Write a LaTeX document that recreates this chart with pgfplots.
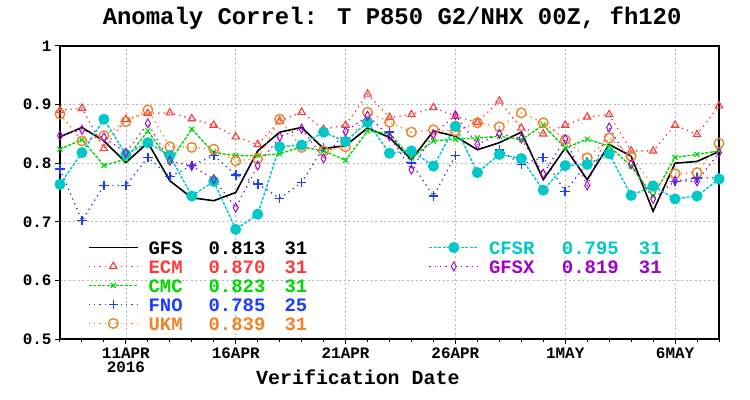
\documentclass[border=0pt]{standalone}
\usepackage{fontspec}
\setmainfont{Liberation Mono}
\usepackage{pgfplots}
\usepackage{pgfplotstable}
\pgfplotsset{compat=1.18}
\definecolor{gred}{RGB}{250,60,60}
\definecolor{ggreen}{RGB}{0,215,0}
\definecolor{gblue}{RGB}{30,60,255}
\definecolor{gcyan}{RGB}{0,200,200}
\definecolor{gorange}{RGB}{240,130,40}
\definecolor{gpurple}{RGB}{160,0,200}
\pgfplotstableread{
x gfs ecm cmc fno ukm cfsr gfsx
0 0.845 0.890 0.824 0.790 0.884 0.764 0.847
1 0.861 0.894 0.840 0.702 0.838 0.818 0.857
2 0.838 0.825 0.796 0.762 0.847 0.875 0.844
3 0.801 0.875 0.807 0.762 0.871 0.815 0.818
4 0.835 0.885 0.855 0.810 0.891 0.835 0.868
5 0.770 0.886 0.803 0.777 0.828 0.813 0.804
6 0.741 0.876 0.858 0.796 0.827 0.744 0.795
7 0.736 0.865 0.818 0.813 0.824 0.769 0.773
8 0.750 0.845 0.813 0.780 0.804 0.687 0.724
9 0.821 0.832 0.813 0.765 0.808 0.713 0.796
10 0.853 0.872 0.816 0.740 0.875 0.828 0.845
11 0.861 0.887 0.828 0.767 0.827 0.831 0.859
12 0.825 0.858 0.821 0.827 0.821 0.853 0.808
13 0.830 0.865 0.805 nan 0.828 0.837 0.854
14 0.860 0.918 0.855 nan 0.887 0.870 0.881
15 0.844 0.878 0.850 0.853 0.870 0.817 0.846
16 0.806 0.883 0.809 0.800 0.853 0.821 0.789
17 0.855 0.895 0.838 0.744 0.857 0.795 0.849
18 0.846 0.880 0.841 0.813 0.855 0.863 0.882
19 0.823 0.870 0.843 nan 0.869 0.784 0.832
20 0.835 0.906 0.846 0.823 0.862 0.815 0.850
21 0.853 0.860 0.840 0.798 0.886 0.808 0.842
22 0.772 0.850 0.865 0.810 0.869 0.754 0.782
23 0.826 0.865 0.826 0.752 0.840 0.796 0.841
24 0.772 0.879 0.841 0.800 0.809 0.798 0.762
25 0.832 0.883 0.829 nan 0.843 0.816 0.861
26 0.812 0.821 0.795 nan 0.812 0.745 0.798
27 0.718 0.821 0.744 nan 0.761 0.761 0.739
28 0.800 0.865 0.810 0.769 0.782 0.739 0.770
29 0.803 0.849 0.815 0.775 0.784 0.744 0.769
30 0.820 0.898 0.821 0.775 0.834 0.773 0.818
}\data
\pgfplotsset{
  sGFS/.style={black, line width=1.6bp, mark=none},
  sECM/.style={gred, line width=1.3bp, dash pattern=on 1.3bp off 4bp, mark=triangle, mark size=4.2bp, mark options={solid, line width=1.1bp}},
  sCMC/.style={ggreen, line width=1.4bp, dash pattern=on 3bp off 1.5bp, mark=x, mark size=3.5bp, mark options={solid, line width=1.1bp}},
  sFNO/.style={gblue, line width=1.3bp, dash pattern=on 1.3bp off 4bp, mark=+, mark size=4.8bp, mark options={solid, line width=1.6bp}},
  sUKM/.style={gorange, line width=1.3bp, dash pattern=on 1.3bp off 4bp, mark=o, mark size=4.8bp, mark options={solid, line width=1.4bp}},
  sCFSR/.style={gcyan, line width=1.4bp, dash pattern=on 3bp off 1.5bp, mark=*, mark size=4.8bp, mark options={solid, fill=gcyan}},
  sGFSX/.style={gpurple, line width=1.2bp, dash pattern=on 1.3bp off 4bp, mark=diamond, mark size=4.5bp, mark options={solid, line width=0.9bp, xscale=0.75}},
}
\begin{document}
\begin{tikzpicture}
\useasboundingbox (-60bp,-61bp) rectangle (690bp,339bp);
\begin{axis}[
  scale only axis, width=659bp, height=293bp,
  at={(0,0)}, anchor=south west,
  xmin=0, xmax=30, ymin=0.5, ymax=1,
  xtick={3,8,13,18,23,28},
  xticklabels={{11APR\\2016},16APR,21APR,26APR,1MAY,6MAY},
  xticklabel style={align=center, font=\bfseries\fontsize{16}{15}\selectfont},
  minor xtick={0,1,...,30},
  ytick={0.5,0.6,0.7,0.8,0.9,1},
  yticklabels={0.5,0.6,0.7,0.8,0.9,1},
  yticklabel style={font=\bfseries\fontsize{16}{16}\selectfont},
  xtick pos=bottom, ytick pos=left,
  tick align=outside, major tick length=5bp, minor tick length=3bp,
  tick style={black, line width=1bp},
  grid=major, grid style={gray!55, dash pattern=on 2bp off 2.5bp, line width=0.7bp},
  axis line style={line width=1.6bp},
  title={Anomaly Correl: T P850 G2/NHX 00Z, fh120},
  title style={at={(0.504,1)}, anchor=base, yshift=16bp, font=\bfseries\fontsize{24}{24}\selectfont},
  xlabel={Verification Date},
  xlabel style={at={(0.452,0)}, anchor=base, yshift=-45bp, font=\bfseries\fontsize{20}{20}\selectfont},
  unbounded coords=jump,
  legend columns=2,
  legend cell align=left,
  legend image code/.code={\draw[mark repeat=2, mark phase=2, #1] plot coordinates {(0bp,0.35em) (24.5bp,0.35em) (49bp,0.35em)};},
  legend style={draw=none, fill=none, at={(0.0425,0.333)}, anchor=north west,
    inner sep=0pt, outer sep=0pt, row sep=0pt,
    nodes={inner sep=0pt, text height=13bp, text depth=6bp},
    /tikz/every odd column/.append style={column sep=10bp},
    font=\bfseries\fontsize{19}{19}\selectfont},
]
\addplot[sGFS, forget plot] table[x=x, y=gfs]{\data};
\addplot[sECM, forget plot] table[x=x, y=ecm]{\data};
\addplot[sCMC, forget plot] table[x=x, y=cmc]{\data};
\addplot[sFNO, forget plot] table[x=x, y=fno]{\data};
\addplot[sUKM, forget plot] table[x=x, y=ukm]{\data};
\addplot[sCFSR, forget plot] table[x=x, y=cfsr]{\data};
\addplot[sGFSX, forget plot] table[x=x, y=gfsx]{\data};
\addlegendimage{sGFS}
\addlegendentry{\color{black}\makebox[60bp][l]{GFS}\makebox[76bp][l]{0.813}\makebox[144bp][l]{31}}
\addlegendimage{sCFSR}
\addlegendentry{\color{gcyan}\makebox[73bp][l]{CFSR}\makebox[77bp][l]{0.795}31}
\addlegendimage{sECM}
\addlegendentry{\color{gred}\makebox[60bp][l]{ECM}\makebox[76bp][l]{0.870}\makebox[144bp][l]{31}}
\addlegendimage{sGFSX}
\addlegendentry{\color{gpurple}\makebox[73bp][l]{GFSX}\makebox[77bp][l]{0.819}31}
\addlegendimage{sCMC}
\addlegendentry{\color{ggreen}\makebox[60bp][l]{CMC}\makebox[76bp][l]{0.823}\makebox[144bp][l]{31}}
\addlegendimage{empty legend}
\addlegendentry{}
\addlegendimage{sFNO}
\addlegendentry{\color{gblue}\makebox[60bp][l]{FNO}\makebox[76bp][l]{0.785}\makebox[144bp][l]{25}}
\addlegendimage{empty legend}
\addlegendentry{}
\addlegendimage{sUKM}
\addlegendentry{\color{gorange}\makebox[60bp][l]{UKM}\makebox[76bp][l]{0.839}\makebox[144bp][l]{31}}
\end{axis}
\end{tikzpicture}
\end{document}
